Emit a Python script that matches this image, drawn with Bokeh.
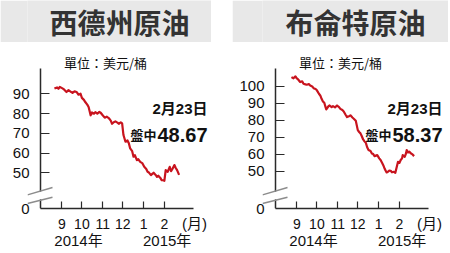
import pandas as pd
from bokeh.plotting import figure
from bokeh.layouts import row, column
from bokeh.models import (Label, FixedTicker, Arrow, PolyAnnotation, Spacer,
                          ColumnDataSource, Range1d, LinearAxis)
from bokeh.embed import file_html
from bokeh.resources import INLINE

# ---------------- data ----------------
month_starts = ["2014-09-01", "2014-10-01", "2014-11-01", "2014-12-01", "2015-01-01", "2015-02-01"]
month_labels = ["9", "10", "11", "12", "1", "2"]
month_unit = "(月)"
year_labels = ["2014年", "2015年"]

wti_dates = ["2014-08-21", "2014-08-25", "2014-08-27", "2014-08-29", "2014-09-02", "2014-09-04",
             "2014-09-08", "2014-09-11", "2014-09-14", "2014-09-17", "2014-09-20", "2014-09-23",
             "2014-09-26", "2014-09-29", "2014-10-01", "2014-10-04", "2014-10-06", "2014-10-09",
             "2014-10-11", "2014-10-14", "2014-10-16", "2014-10-19", "2014-10-21", "2014-10-24",
             "2014-10-27", "2014-10-29", "2014-11-01", "2014-11-04", "2014-11-07", "2014-11-10",
             "2014-11-13", "2014-11-15", "2014-11-18", "2014-11-20", "2014-11-23", "2014-11-25",
             "2014-11-28", "2014-11-30", "2014-12-02", "2014-12-05", "2014-12-08", "2014-12-10",
             "2014-12-12", "2014-12-15", "2014-12-17", "2014-12-19", "2014-12-22", "2014-12-24",
             "2014-12-27", "2014-12-30", "2015-01-02", "2015-01-05", "2015-01-07", "2015-01-09",
             "2015-01-12", "2015-01-14", "2015-01-16", "2015-01-19", "2015-01-21", "2015-01-23",
             "2015-01-26", "2015-01-28", "2015-01-30", "2015-02-01", "2015-02-03", "2015-02-06",
             "2015-02-09", "2015-02-11", "2015-02-13", "2015-02-16", "2015-02-18", "2015-02-20",
             "2015-02-23"]
wti_values = [92.7, 93.3, 92.6, 93.6, 92.8, 92.4,
              91.0, 91.9, 91.2, 90.5, 91.3, 91.0,
              89.6, 90.1, 88.0, 87.0, 85.9, 84.6,
              83.4, 79.2, 80.6, 80.0, 80.8, 80.0,
              80.9, 80.5, 79.2, 78.0, 78.5, 77.8,
              76.5, 74.9, 75.8, 76.1, 75.5, 74.9,
              75.6, 75.1, 69.2, 65.8, 66.5, 65.0,
              62.4, 61.0, 58.2, 59.0, 56.5, 57.0,
              55.6, 55.0, 53.1, 52.0, 50.6, 50.2,
              48.9, 49.5, 50.1, 49.0, 48.0, 48.6,
              47.5, 46.3, 46.3, 46.0, 51.4, 50.6,
              53.1, 50.9, 52.0, 54.0, 52.5, 51.4,
              49.0]

brent_dates = ["2014-08-24", "2014-08-27", "2014-08-30", "2014-09-01", "2014-09-03", "2014-09-06",
               "2014-09-09", "2014-09-11", "2014-09-14", "2014-09-16", "2014-09-19", "2014-09-21",
               "2014-09-24", "2014-09-26", "2014-09-29", "2014-10-01", "2014-10-04", "2014-10-06",
               "2014-10-08", "2014-10-10", "2014-10-12", "2014-10-14", "2014-10-15", "2014-10-18",
               "2014-10-20", "2014-10-23", "2014-10-25", "2014-10-28", "2014-10-31", "2014-11-03",
               "2014-11-05", "2014-11-08", "2014-11-10", "2014-11-13", "2014-11-15", "2014-11-18",
               "2014-11-20", "2014-11-23", "2014-11-25", "2014-11-28", "2014-12-01", "2014-12-03",
               "2014-12-05", "2014-12-07", "2014-12-09", "2014-12-11", "2014-12-13", "2014-12-15",
               "2014-12-17", "2014-12-20", "2014-12-22", "2014-12-24", "2014-12-26", "2014-12-30",
               "2015-01-02", "2015-01-04", "2015-01-06", "2015-01-08", "2015-01-10", "2015-01-11",
               "2015-01-13", "2015-01-15", "2015-01-17", "2015-01-19", "2015-01-21", "2015-01-24",
               "2015-01-26", "2015-01-27", "2015-01-30", "2015-02-01", "2015-02-03", "2015-02-05",
               "2015-02-06", "2015-02-09", "2015-02-11", "2015-02-12", "2015-02-14", "2015-02-16",
               "2015-02-18", "2015-02-20", "2015-02-23"]
brent_values = [105.3, 104.6, 105.7, 104.5, 103.9, 102.4,
                102.8, 101.4, 101.0, 100.8, 101.2, 100.4,
                99.8, 98.8, 98.3, 97.5, 95.5, 94.5,
                92.5, 91.0, 90.2, 87.5, 86.3, 88.0,
                88.6, 87.6, 88.2, 87.5, 88.6, 87.6,
                86.6, 85.9, 85.1, 83.0, 81.8, 82.3,
                82.8, 81.5, 80.8, 79.6, 74.1, 73.0,
                72.2, 70.5, 68.6, 67.5, 66.6, 64.0,
                62.4, 61.8, 60.4, 60.0, 58.8, 59.4,
                57.5, 56.5, 55.0, 53.5, 51.5, 50.6,
                49.2, 49.6, 50.3, 50.2, 49.3, 49.6,
                49.0, 50.6, 55.5, 54.8, 56.5, 57.5,
                59.4, 58.4, 60.5, 62.4, 61.0, 61.4,
                60.5, 60.0, 58.8]

wti_ticks = [50, 60, 70, 80, 90]
brent_ticks = [50, 60, 70, 80, 90, 100]
as_of = "2月23日"
wti_last = "48.67"
brent_last = "58.37"

# ---------------- styling ----------------
BASE = pd.Timestamp("2014-09-01")
HEAD_BG = "#e8e8e8"
TITLE_C = "#333333"
RED = "#c8141e"
AX = "#2a2a2a"
TXT = "#111111"
CJK = "'Noto Sans CJK TC'"
LAT = "'Liberation Sans', 'Noto Sans CJK TC'"
HEAD_H = 42
BODY_H = 253 - HEAD_H
FB = 208 - HEAD_H     # x-axis position inside body (px from top)
AX_TOP = 68 - HEAD_H  # top end of the y-axis line
PPD = 0.6703          # px per day


def to_days(ds):
    return [(pd.Timestamp(d) - BASE).days for d in ds]


def header(title, width):
    h = figure(width=width, height=HEAD_H, x_range=(0, 1), y_range=(0, 1), title=None,
               toolbar_location=None, output_backend="svg", min_border=0,
               x_axis_location=None, y_axis_location=None,
               background_fill_color=HEAD_BG, border_fill_color=HEAD_BG, outline_line_color=None)
    h.grid.visible = False
    h.add_layout(Label(x=0.5, y=0.5, text=title, text_align="center", text_baseline="middle",
                       text_font=CJK, text_font_style="bold", text_font_size="28px",
                       text_color=TITLE_C))
    return h


def body(dates, vals, y0, ppu, yticks, last, width, lb, ax_x, ax_end, sep1):
    def X(px):
        return (px - sep1) / PPD

    def Y(py):
        return y0 + (FB - py) / ppu

    p = figure(width=width, height=BODY_H, x_range=Range1d(X(lb), X(width)),
               y_range=Range1d(y0, Y(0)), title=None, toolbar_location=None,
               output_backend="svg", min_border_left=lb, min_border_right=0,
               min_border_top=0, min_border_bottom=BODY_H - FB,
               background_fill_color="white", border_fill_color="white", outline_line_color=None)
    p.grid.visible = False

    mt = to_days(month_starts)

    # x axis: line, ticks and month labels, limited to the drawn extent
    xa = p.xaxis[0]
    xa.ticker = FixedTicker(ticks=mt)
    xa.major_label_overrides = dict(zip(mt, month_labels))
    xa.bounds = (X(ax_x), X(ax_end))
    xa.major_tick_in, xa.major_tick_out = 7, 0
    xa.minor_tick_line_color = None
    xa.axis_line_width = 1.5
    xa.axis_line_color = AX
    xa.major_tick_line_color = AX
    xa.major_tick_line_width = 1.2
    xa.major_label_text_font = LAT
    xa.major_label_text_font_size = "14px"
    xa.major_label_text_color = TXT
    xa.major_label_standoff = 10

    # second label row: "(月)" beside the months, years underneath
    unit_pos = round(X(ax_x + 154), 2)
    yr_pos = [round(X(ax_x + 38), 2), round(X(ax_x + 126.7), 2)]
    over = {unit_pos: month_unit}
    over.update({pp: "\n" + t for pp, t in zip(yr_pos, year_labels)})
    xu = LinearAxis(ticker=FixedTicker(ticks=[unit_pos] + yr_pos), major_label_overrides=over,
                    axis_line_color=None, major_tick_line_color=None, minor_tick_line_color=None,
                    major_label_text_font=LAT, major_label_text_font_size="15px",
                    major_label_text_line_height=1.0,
                    major_label_text_color=TXT, major_label_standoff=-23)
    p.add_layout(xu, "below")

    # y axis labels
    ya = p.yaxis[0]
    ya.ticker = FixedTicker(ticks=[y0] + yticks)
    ya.major_label_overrides = {y0: "0"}
    ya.axis_line_color = None
    ya.major_tick_line_color = None
    ya.minor_tick_line_color = None
    ya.major_label_text_font = LAT
    ya.major_label_text_font_size = "15px"
    ya.major_label_text_color = TXT
    ya.major_label_standoff = -(ax_x - lb - 5)

    # y axis line and ticks at the axis position
    yb = LinearAxis(ticker=FixedTicker(ticks=[y0] + yticks), fixed_location=X(ax_x),
                    bounds=(y0, Y(AX_TOP)), major_tick_in=9, major_tick_out=0,
                    minor_tick_line_color=None, axis_line_width=1.5, axis_line_color=AX,
                    major_tick_line_color=AX, major_tick_line_width=1.2,
                    major_label_overrides={t: "" for t in [y0] + yticks},
                    major_label_standoff=0)
    p.add_layout(yb, "left")

    src = ColumnDataSource(dict(x=to_days(dates), y=vals))
    p.line("x", "y", source=src, line_color=RED, line_width=2.2, line_join="round")

    # axis break
    p.add_layout(PolyAnnotation(xs=[X(ax_x - 4), X(ax_x + 4), X(ax_x + 4), X(ax_x - 4)],
                                ys=[Y(FB - 15.6), Y(FB - 18.0), Y(FB - 10.2), Y(FB - 8.0)],
                                fill_color="white", fill_alpha=1, line_color=None))
    for (ya_, yb_) in [(FB - 13.7, FB - 21.0), (FB - 5.0, FB - 11.3)]:
        p.add_layout(Arrow(end=None, start=None, x_start=X(ax_x - 13), y_start=Y(ya_),
                           x_end=X(ax_x + 12), y_end=Y(yb_), line_color="#8c8c8c",
                           line_width=1.4))

    def lab(px, py, text, **kw):
        p.add_layout(Label(x=X(px), y=Y(py - HEAD_H), text=text, text_color=TXT, **kw))

    # positions below are given in page pixels from the top
    lab(ax_x + 65, 62, "單位：美元/桶", text_align="center", text_baseline="middle",
        text_font=CJK, text_font_size="13px")
    lab(ax_x + 167, 107.5, as_of, text_align="right", text_baseline="middle", text_font=LAT,
        text_font_style="bold", text_font_size="15px")
    lab(ax_x + 167, 134, last, text_align="right", text_baseline="alphabetic", text_font=LAT,
        text_font_style="bold", text_font_size="20px")
    lab(ax_x + 116, 134, "盤中", text_align="right", text_baseline="alphabetic", text_font=CJK,
        text_font_style="bold", text_font_size="13px")
    return p


WL, WR = 211, 216
hL = header("西德州原油", WL)
bL = body(wti_dates, wti_values, 32, 1.975, wti_ticks, wti_last, WL, 27, 40, 193, 61.3)
hR = header("布侖特原油", WR)
bR = body(brent_dates, brent_values, 28, 1.7, brent_ticks, brent_last, WR, 30, 43, 196, 64.3)

layout = row(column(hL, bL, spacing=0), Spacer(width=21, height=253),
             column(hR, bR, spacing=0), spacing=0)

open("out.html", "w").write(file_html(layout, INLINE))
